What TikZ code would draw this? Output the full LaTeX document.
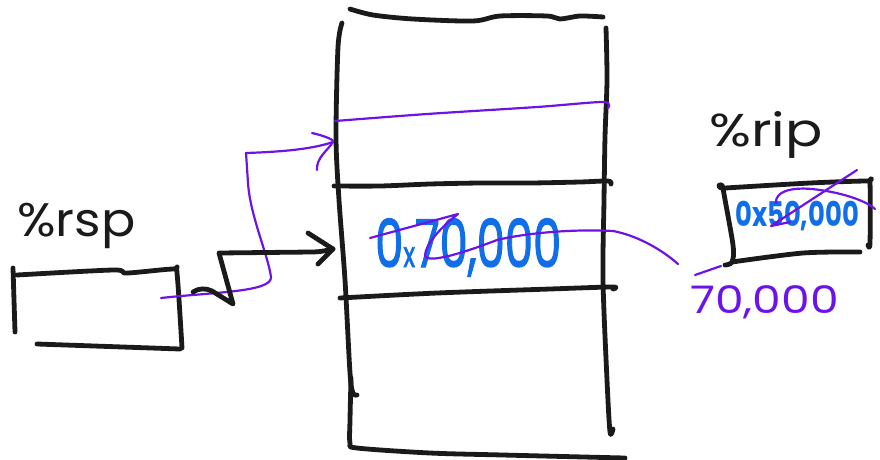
\documentclass[tikz,border=0pt]{standalone}
\usepackage{fontspec}
\setmainfont{Poppins}
\newfontfamily\thickhand{Poppins}[FakeBold=2]
\definecolor{inkc}{RGB}{26,26,26}
\definecolor{penc}{RGB}{108,20,232}
\definecolor{bluec}{RGB}{16,110,232}
\tikzset{
  blackstroke/.style={draw=inkc, line width=4.8pt, line cap=round, line join=round},
  penstroke/.style={draw=penc, line width=2.2pt, line cap=round, line join=round},
  lbl/.style={inner sep=0pt, anchor=base west},
}
\begin{document}
\begin{tikzpicture}[x=1pt,y=-1pt]
\useasboundingbox (0,0) rectangle (880,459);

% ---- stack frame column ----
\draw[blackstroke] plot[smooth,tension=0.5] coordinates
  {(350,9) (373,15) (413,19) (473,21) (500,16) (547,16) (560,19) (580,16) (603,17)};
\draw[blackstroke] plot[smooth,tension=0.5] coordinates
  {(342,23) (338,47) (336,137) (339,200) (345,280) (350,373) (353,393) (357,395)};
\draw[blackstroke] plot[smooth,tension=0.5] coordinates
  {(351,378) (350,420) (350,443) (357,448) (430,453) (503,455) (625,458)};
\draw[blackstroke] plot[smooth,tension=0.5] coordinates
  {(606,28) (607,80) (605,137) (604,200) (603,280) (607,380) (610,432) (613,429)};
\draw[blackstroke] plot[smooth,tension=0.5] coordinates
  {(334,186) (380,186) (430,184) (480,183) (530,183) (580,182) (608,181) (611,184)};
\draw[blackstroke] plot[smooth,tension=0.5] coordinates
  {(340,298) (437,293) (550,289) (612,287) (613,289)};
\draw[penstroke] plot[smooth,tension=0.5] coordinates
  {(335,121) (427,114) (537,107) (603,102) (608,108)};

% ---- %rsp register ----
\node[lbl, text=inkc] (rsplbl) at (17,236)
  {\scalebox{1.08}[1]{\fontsize{47}{47}\selectfont\%rsp}};
\draw[blackstroke] (13,268) -- (15,332);
\draw[blackstroke] plot[smooth,tension=0.5] coordinates
  {(17,275) (113,270) (127,273) (173,269) (177,273) (182,348)};
\draw[blackstroke] (37,344) -- (180,349);

% ---- %rip register ----
\node[lbl, text=inkc] (riplbl) at (709,146)
  {\scalebox{1.2}[1]{\fontsize{46}{46}\selectfont\%rip}};
\draw[blackstroke] plot[smooth,tension=0.5] coordinates
  {(725,265) (732,262) (733,245) (723,188) (725,188) (810,183) (867,181) (870,183) (870,243) (868,245)};
\draw[blackstroke] plot[smooth,tension=0.5] coordinates
  {(732,262) (803,253) (860,252)};

% ---- values ----
\node[lbl, text=bluec] (val70) at (375,267)
  {\scalebox{0.68}[1]{\thickhand\fontsize{66}{66}\selectfont 0{\fontsize{36}{36}\selectfont x}70,000}};
\node[lbl, text=bluec] (val50) at (735,226)
  {\scalebox{0.76}[1]{\fontsize{34}{34}\selectfont\bfseries 0x50,000}};
\node[lbl, text=penc] (new70) at (690,313)
  {\scalebox{1.2}[1]{\fontsize{38}{38}\selectfont 70,000}};

% ---- edits in pen ----
\coordinate (oldval) at (370,238);
\coordinate (newval) at (678,264);
\draw[penstroke] (oldval) -- (458,214) .. controls (440,228) and (425,245) .. (425,256)
  .. controls (427,262) and (450,258) .. (497,240)
  .. controls (530,232) and (580,229) .. (613,231)
  .. controls (635,235) and (660,248) .. (newval);
\draw[penstroke] (790,222) -- (771,226) -- (857,170);
\draw[penstroke] (776,203) .. controls (775,192) and (790,187) .. (812,189)
  .. controls (840,192) and (865,200) .. (875,209);
\coordinate (ripcorner) at (721,266);
\draw[penstroke] (695,275) -- (ripcorner);

% ---- pointer arrows from %rsp ----
\coordinate (rspin) at (161,298);
\coordinate (slottop) at (333,142);
\draw[penstroke] (rspin) .. controls (215,292) and (272,292) .. (271,277)
  .. controls (268,255) and (250,215) .. (248,183) -- (246,153)
  .. controls (275,152) and (310,150) .. (slottop);
\draw[penstroke] (312,133) .. controls (325,136) and (335,140) .. (slottop)
  .. controls (328,150) and (316,158) .. (317,170);

\coordinate (rspedge) at (193,292);
\coordinate (slotmid) at (333,249);
\draw[blackstroke] (rspedge) .. controls (199,288) and (206,288) .. (212,291)
  -- (233,304) -- (219,253) -- (311,252) .. controls (322,252) and (328,250) .. (slotmid);
\draw[blackstroke] (308,233) -- (slotmid) -- (318,264);
\end{tikzpicture}
\end{document}
